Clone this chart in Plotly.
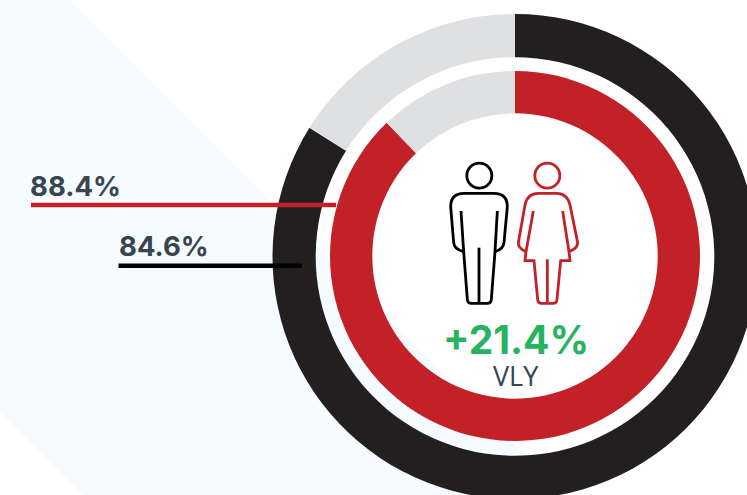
import plotly.graph_objects as go

W, H = 758, 499  # canvas is larger than the window; the rings bleed off right and bottom

ring_labels = ["Reached", "Remainder"]
outer_values = [83.9, 16.1]
inner_values = [87.8, 12.2]
outer_colors = ["#231f20", "#dfe0e2"]
inner_colors = ["#c32128", "#dfe0e2"]

# Texts
red_label = "88.4%"
black_label = "84.6%"
delta_label = "+21.4%"
delta_sub = "VLY"

INK = "#36454f"
GREEN = "#27b35f"
RED = "#c32128"
BLACK = "#000000"
PALE = "#f6fbff"


def px(x):
    return x / W


def py(y):
    return 1 - y / H


def domain(cx, cy, r):
    return dict(
        x=[max(px(cx - r), 0), min(px(cx + r), 1)],
        y=[max(py(cy + r), 0), min(py(cy - r), 1)],
    )


def path(cmds):
    out = []
    for c in cmds:
        out.append(c[0])
        pts = c[1:]
        for i in range(0, len(pts), 2):
            out.append(f"{px(pts[i]):.5f},{py(pts[i + 1]):.5f}")
    return " ".join(out)


def zpt(zx, zy, ox=430, oy=150):
    # coordinates measured on a 3x crop of the icon area
    return ox + zx / 3, oy + zy / 3


def zpath(cmds):
    res = []
    for c in cmds:
        nums = []
        for i in range(1, len(c), 2):
            nums.extend(zpt(c[i], c[i + 1]))
        res.append((c[0], *nums))
    return path(res)


fig = go.Figure()
fig.add_trace(go.Pie(labels=ring_labels, values=outer_values, sort=False, direction="clockwise",
                     rotation=0, hole=199.3 / 242.5, domain=domain(515, 256.5, 242.5),
                     marker=dict(colors=outer_colors, line=dict(width=0)),
                     textinfo="none", hoverinfo="skip", showlegend=False))
fig.add_trace(go.Pie(labels=ring_labels, values=inner_values, sort=False, direction="clockwise",
                     rotation=0, hole=142.7 / 185, domain=domain(515, 256, 185),
                     marker=dict(colors=inner_colors, line=dict(width=0)),
                     textinfo="none", hoverinfo="skip", showlegend=False))

shapes = []
# pale backdrop band
shapes.append(dict(type="path", xref="paper", yref="paper", layer="below", line=dict(width=0),
                   fillcolor=PALE,
                   path=path([("M", 0, 0), ("L", 70, 0), ("L", 569, 499), ("L", 87, 499), ("L", 0, 412)]) + " Z"))
# leader lines
shapes.append(dict(type="line", xref="paper", yref="paper", layer="above",
                   x0=px(31), x1=px(336), y0=py(205), y1=py(205), line=dict(color=RED, width=4.4)))
shapes.append(dict(type="line", xref="paper", yref="paper", layer="above",
                   x0=px(118.5), x1=px(302), y0=py(265.8), y1=py(265.8), line=dict(color=BLACK, width=4.4)))

ICON_W = 2.8
for cx, col in [(148, BLACK), (352, RED)]:
    x, y = zpt(cx, 77)
    r = 12.5
    shapes.append(dict(type="circle", xref="paper", yref="paper", layer="above",
                       x0=px(x - r), x1=px(x + r), y0=py(y + r), y1=py(y - r),
                       line=dict(color=col, width=ICON_W), fillcolor="rgba(0,0,0,0)"))

man = [("M", 93, 183), ("L", 101, 305), ("L", 112, 448), ("Q", 113, 460, 124, 460), ("L", 172, 460),
       ("Q", 183, 460, 184, 448), ("L", 195, 305), ("L", 202, 183)]
man_outer = [("M", 101, 305), ("Q", 72, 298, 71, 278), ("L", 62, 170), ("Q", 62, 130, 102, 130), ("L", 192, 130),
             ("Q", 232, 130, 232, 170), ("L", 222, 278), ("Q", 220, 298, 195, 305)]
man_mid = [("M", 147, 293), ("L", 147, 460)]
woman = [("M", 310, 183), ("L", 288, 305), ("L", 285, 332), ("L", 312, 332), ("L", 323, 448), ("Q", 324, 460, 335, 460),
         ("L", 369, 460), ("Q", 380, 460, 381, 448), ("L", 392, 332), ("L", 420, 332), ("L", 417, 305), ("L", 398, 183)]
woman_outer = [("M", 288, 305), ("Q", 264, 295, 265, 278), ("L", 285, 165), ("Q", 292, 130, 325, 130), ("L", 380, 130),
               ("Q", 412, 130, 420, 165), ("L", 443, 278), ("Q", 443, 295, 417, 305)]
woman_mid = [("M", 352, 328), ("L", 352, 460)]
for cmds, col in [(man, BLACK), (man_outer, BLACK), (man_mid, BLACK),
                  (woman, RED), (woman_outer, RED), (woman_mid, RED)]:
    shapes.append(dict(type="path", xref="paper", yref="paper", layer="above", path=zpath(cmds),
                       line=dict(color=col, width=ICON_W), fillcolor="rgba(0,0,0,0)"))


def label(text, x, y, size, color, family, anchor="left"):
    return dict(text=text, x=px(x), y=py(y), xref="paper", yref="paper", xanchor=anchor, yanchor="middle",
                showarrow=False, align="left", font=dict(size=size, color=color, family=family),
                borderpad=0, borderwidth=0)


annotations = [
    label(f"<b>{red_label}</b>", 75.5, 185.5, 27.5, INK, "Inter", "center"),
    label(f"<b>{black_label}</b>", 163.5, 245.5, 27.5, INK, "Inter", "center"),
    label(f"<b>{delta_label}</b>", 516, 339, 39, GREEN, "Inter", "center"),
    label(delta_sub, 516, 375, 27, INK, "Open Sans", "center"),
]

fig.update_layout(width=W, height=H, margin=dict(l=0, r=0, t=0, b=0, pad=0, autoexpand=False),
                  paper_bgcolor="#ffffff", plot_bgcolor="#ffffff",
                  shapes=shapes, annotations=annotations, showlegend=False)

fig.write_html("out.html", config={"displayModeBar": False, "responsive": False},
               post_script="document.documentElement.style.overflow='hidden';document.body.style.margin='0';document.body.style.overflow='hidden';")
